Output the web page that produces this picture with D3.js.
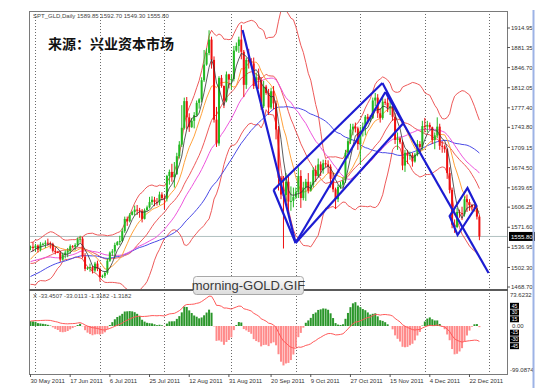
<!DOCTYPE html>
<html>
<head>
<meta charset="utf-8">
<script src="https://cdn.jsdelivr.net/npm/d3@7"></script>
<style>
body{margin:0;background:#fff}
svg{display:block}
text{font-family:"Liberation Sans",Arial,sans-serif}
</style>
</head>
<body>
<script>
// closes before the visible window (only used to warm up the averages / MACD)
var priorClose = [1422,1394,1397,1403,1418,1426,1433,1438,1437,1428,1417,1418,1424,1439,1429,1437,1452,1455,1459,1474,
	1464,1454,1457,1474,1486,1493,1495,1503,1505,1505,1507,1504,1530,1535,1556,1544,1533,1515,1474,1491,
	1514,1516,1501,1502,1491,1486,1490,1497,1494,1511,1527,1526,1526,1519,1536];

// daily bars, 30 May 2011 .. 28 Dec 2011
var open = [1536,1538,1536,1540,1533,1542,1543,1545,1544,1543,1531,1529,1528,1516,1524,1528,1531,1539,1538,1541,
	1551,1552,1521,1500,1502,1503,1497,1509,1500,1486,1488,1493,1514,1528,1530,1541,1546,1548,1565,1586,
	1582,1593,1598,1602,1601,1600,1586,1601,1606,1615,1619,1615,1614,1628,1622,1621,1660,1667,1658,1663,
	1694,1714,1743,1789,1761,1744,1755,1765,1786,1792,1825,1852,1872,1895,1860,1757,1716,1829,1815,1790,
	1835,1826,1827,1876,1884,1895,1874,1817,1860,1857,1854,1815,1830,1825,1780,1814,1803,1778,1806,1785,
	1740,1657,1628,1627,1650,1616,1617,1624,1632,1660,1622,1640,1650,1635,1645,1670,1660,1680,1670,1682,
	1680,1676,1655,1637,1620,1641,1645,1652,1700,1720,1740,1745,1742,1715,1738,1745,1762,1758,1760,1790,
	1795,1768,1760,1788,1786,1778,1780,1762,1722,1725,1718,1678,1700,1695,1696,1685,1697,1715,1710,1746,
	1745,1748,1744,1722,1730,1745,1712,1711,1706,1665,1636,1576,1572,1598,1596,1594,1620,1615,1610,1606,
	1604,1589.85];
var high = [1540,1546,1543,1542,1546,1545,1549,1552,1547,1545,1537,1531,1531,1528,1532,1536,1542,1541,1544,1554,
	1557,1555,1527,1504,1509,1505,1512,1514,1502,1490,1496,1518,1530,1534,1545,1548,1557,1570,1590,1590,
	1596,1600,1609,1610,1605,1603,1604,1609,1624,1625,1624,1622,1633,1632,1627,1662,1671,1681,1684,1700,
	1720,1782,1795,1796,1768,1760,1770,1790,1794,1830,1877,1880,1911,1900,1866,1779,1832,1834,1816,1840,
	1836,1835,1884,1890,1900,1920,1877,1864,1879,1863,1864,1838,1845,1830,1824,1817,1810,1812,1815,1790,
	1746,1660,1660,1665,1662,1642,1640,1640,1675,1670,1650,1655,1665,1650,1675,1678,1690,1685,1688,1688,
	1687,1680,1665,1640,1645,1650,1658,1705,1725,1750,1750,1752,1745,1745,1752,1765,1767,1765,1795,1803,
	1801,1777,1795,1793,1795,1790,1786,1768,1735,1727,1722,1705,1705,1702,1700,1700,1722,1720,1755,1760,
	1755,1752,1745,1735,1761,1750,1720,1714,1708,1675,1640,1585,1605,1602,1607,1625,1628,1620,1612,1610,
	1608,1592.70];
var low = [1532,1530,1530,1528,1530,1540,1536,1540,1535,1528,1525,1527,1512,1514,1518,1520,1526,1536,1532,1538,
	1545,1518,1496,1498,1495,1492,1494,1496,1478,1484,1484,1490,1512,1522,1519,1540,1541,1546,1562,1574,
	1580,1592,1592,1593,1588,1580,1585,1600,1604,1610,1608,1609,1610,1618,1603,1616,1645,1650,1640,1662,
	1690,1710,1740,1740,1736,1743,1742,1763,1776,1787,1822,1850,1868,1845,1752,1710,1712,1812,1777,1787,
	1811,1809,1823,1874,1872,1861,1796,1810,1845,1850,1810,1811,1810,1774,1777,1800,1765,1775,1775,1723,
	1635,1620,1535,1612,1598,1600,1606,1620,1622,1605,1618,1617,1630,1633,1640,1650,1657,1660,1664,1675,
	1665,1640,1632,1603,1615,1638,1640,1648,1690,1715,1730,1735,1705,1680,1728,1730,1750,1753,1758,1780,
	1760,1752,1757,1782,1770,1765,1755,1715,1705,1715,1670,1667,1681,1688,1676,1683,1694,1700,1705,1735,
	1735,1740,1715,1706,1725,1705,1700,1700,1655,1630,1570,1562,1570,1588,1584,1590,1598,1600,1600,1600,
	1585,1549.30];
var close = [1538,1536,1540,1533,1542,1543,1545,1544,1543,1531,1529,1528,1516,1524,1528,1531,1539,1538,1541,1551,
	1552,1521,1500,1502,1503,1497,1509,1500,1486,1488,1493,1514,1528,1530,1541,1546,1548,1565,1586,1582,
	1593,1598,1602,1601,1600,1586,1601,1606,1615,1619,1615,1614,1628,1622,1621,1660,1667,1658,1663,1694,
	1714,1743,1789,1761,1744,1755,1765,1786,1792,1825,1852,1872,1895,1860,1757,1716,1829,1815,1790,1835,
	1826,1827,1876,1884,1895,1874,1817,1860,1857,1854,1815,1830,1825,1780,1814,1803,1778,1806,1785,1740,
	1657,1628,1627,1650,1616,1617,1624,1632,1660,1622,1640,1650,1635,1645,1670,1660,1680,1670,1682,1680,
	1676,1655,1637,1620,1641,1645,1652,1700,1720,1740,1745,1742,1715,1738,1745,1762,1758,1760,1790,1795,
	1768,1760,1788,1786,1778,1780,1762,1722,1725,1718,1678,1700,1695,1696,1685,1697,1715,1710,1746,1745,
	1748,1744,1722,1730,1745,1712,1711,1706,1665,1636,1576,1572,1598,1596,1594,1620,1615,1610,1606,1604,
	1590,1555.80];

var dateTicks = [0,16,32,48,64,80,97,113,129,145,161,177];
var dateLabels = ["30 May 2011","17 Jun 2011","6 Jul 2011","25 Jul 2011","12 Aug 2011","31 Aug 2011",
	"20 Sep 2011","9 Oct 2011","27 Oct 2011","15 Nov 2011","4 Dec 2011","22 Dec 2011"];
var monthStarts = [2,28,54,81,107,133,159,185];
var priceTicks = [1914.95,1881.35,1846.70,1812.05,1777.40,1743.80,1709.15,1674.50,1639.65,1606.25,1571.60,1536.95,1502.30,1468.70];
var macdLevels = [45,30,15,-15,-30,-45];
var lastPrice = 1555.80;

// hand drawn channel lines, [bar, price] end points
var trendSegs = [
	[[85.5,1911.5],[106.9,1544.5]],
	[[98.0,1635.8],[106.9,1544.5]],
	[[98.0,1635.8],[141.9,1820.2]],
	[[106.9,1544.5],[150.4,1751.3]],
	[[141.9,1820.2],[150.4,1751.3]],
	[[106.9,1544.5],[143.1,1804.7]],
	[[143.1,1804.7],[184.7,1492.8]]
];
var box = [[169.0,1591.0],[176.2,1639.3],[179.8,1608.3],[172.2,1558.3]];

var W = 560, H = 388;
var L = 29, R = 507, T = 11, MID = 290, B = 374;

var svg = d3.select("body").append("svg").attr("width", W).attr("height", H);

var x = d3.scaleLinear().domain([0, 181]).range([30.5, 479.4]);
var y = d3.scaleLinear().domain([1468.70, 1914.95]).range([287, 28]);
var ym = d3.scaleLinear().domain([-99.0874, 73.6232]).range([370.4, 293]);

var defs = svg.append("defs");
defs.append("clipPath").attr("id", "cm").append("rect").attr("x", L).attr("y", T).attr("width", R - L).attr("height", MID - T);
defs.append("clipPath").attr("id", "cd").append("rect").attr("x", L).attr("y", MID).attr("width", R - L).attr("height", B - MID);
var gr = defs.append("linearGradient").attr("id", "bg").attr("x1", 0).attr("y1", 0).attr("x2", 0).attr("y2", 1);
gr.append("stop").attr("offset", "0%").attr("stop-color", "#fbfbfb");
gr.append("stop").attr("offset", "100%").attr("stop-color", "#dcdcdc");

// indicators
var all = priorClose.concat(close), off = priorClose.length;
var idx = d3.range(close.length);
function sma(n, i) {
	var s = 0;
	for (var k = 0; k < n; k++) s += all[off + i - k];
	return s / n;
}
function sdev(n, i) {
	var m = sma(n, i), s = 0;
	for (var k = 0; k < n; k++) { var d = all[off + i - k] - m; s += d * d; }
	return Math.sqrt(s / n);
}
function ema(arr, n) {
	var a = 2 / (n + 1), out = [arr[0]];
	for (var k = 1; k < arr.length; k++) out.push(a * arr[k] + (1 - a) * out[k - 1]);
	return out;
}
var e12 = ema(all, 12), e26 = ema(all, 26);
var dif = all.map(function(v, k){ return e12[k] - e26[k]; });
// signal: simple 9 average of the macd line
var dea = dif.map(function(v, k){
	var s = 0, c = 0;
	for (var j = Math.max(0, k - 8); j <= k; j++) { s += dif[j]; c++; }
	return s / c;
});
var hist = function(i){ return 3 * (dif[off + i] - dea[off + i]); };

// grid
svg.append("g").selectAll("line").data(monthStarts).enter().append("line")
	.attr("x1", function(d){ return Math.round(x(d)) + 0.5; }).attr("x2", function(d){ return Math.round(x(d)) + 0.5; })
	.attr("y1", T).attr("y2", B)
	.attr("stroke", "#6a6a6a").attr("stroke-width", 1).attr("stroke-dasharray", "1,2");

// bid line
svg.append("line").attr("x1", L).attr("x2", R).attr("y1", y(lastPrice)).attr("y2", y(lastPrice))
	.attr("stroke", "#b0c0c0").attr("stroke-width", 1);

var gm = svg.append("g").attr("clip-path", "url(#cm)");

function lineOf(f) {
	return d3.line().x(function(i){ return x(i); }).y(function(i){ return y(f(i)); })(idx);
}
var lines = [
	{f: function(i){ return sma(20, i) + 2 * sdev(20, i); }, c: "#ee5a5a"},
	{f: function(i){ return sma(20, i) - 2 * sdev(20, i); }, c: "#ee5a5a"},
	{f: function(i){ return sma(20, i); }, c: "#ee5a5a"},
	{f: function(i){ return sma(50, i); }, c: "#4a4ae6"},
	{f: function(i){ return sma(30, i); }, c: "#ee55dd"},
	{f: function(i){ return sma(10, i); }, c: "#ffa23c"}
];
lines.forEach(function(l){
	gm.append("path").attr("d", lineOf(l.f)).attr("fill", "none").attr("stroke", l.c).attr("stroke-width", 1);
});

// candles
var up = "#22b822", dn = "#ee1111";
var cg = gm.selectAll("g.c").data(idx).enter().append("g");
cg.append("line")
	.attr("x1", function(i){ return x(i); }).attr("x2", function(i){ return x(i); })
	.attr("y1", function(i){ return y(high[i]); }).attr("y2", function(i){ return y(low[i]); })
	.attr("stroke", function(i){ return close[i] >= open[i] ? up : dn; }).attr("stroke-width", 1);
cg.append("rect")
	.attr("x", function(i){ return x(i) - 1; }).attr("width", 2)
	.attr("y", function(i){ return y(Math.max(open[i], close[i])); })
	.attr("height", function(i){ return Math.max(1, Math.abs(y(open[i]) - y(close[i]))); })
	.attr("fill", function(i){ return close[i] >= open[i] ? up : dn; });

gm.append("path").attr("d", lineOf(function(i){ return sma(5, i); }))
	.attr("fill", "none").attr("stroke", "#333").attr("stroke-width", 0.8);

// channel lines
var pt = function(p){ return [x(p[0]), y(p[1])]; };
gm.selectAll("line.t").data(trendSegs).enter().append("line")
	.attr("x1", function(s){ return pt(s[0])[0]; }).attr("y1", function(s){ return pt(s[0])[1]; })
	.attr("x2", function(s){ return pt(s[1])[0]; }).attr("y2", function(s){ return pt(s[1])[1]; })
	.attr("stroke", "#1c1cd2").attr("stroke-width", 2.2);
gm.append("path").attr("d", d3.line()(box.map(pt)) + "Z")
	.attr("fill", "none").attr("stroke", "#1c1cd2").attr("stroke-width", 2.2);

// MACD panel
var gd = svg.append("g").attr("clip-path", "url(#cd)");
gd.selectAll("rect").data(idx).enter().append("rect")
	.attr("x", function(i){ return x(i) - 1; }).attr("width", 2)
	.attr("y", function(i){ return ym(Math.max(hist(i), 0)); })
	.attr("height", function(i){ return Math.abs(ym(hist(i)) - ym(0)); })
	.attr("fill", function(i){ return hist(i) >= 0 ? "#2a962a" : "#ff8a8a"; });
gd.append("path")
	.attr("d", d3.line().x(function(i){ return x(i); }).y(function(i){ return ym(dif[off + i]); })(idx))
	.attr("fill", "none").attr("stroke", "#ff5a5a").attr("stroke-width", 1);

// frames
svg.append("rect").attr("x", L + 0.5).attr("y", T + 0.5).attr("width", R - L).attr("height", B - T)
	.attr("fill", "none").attr("stroke", "#7a7a7a");
svg.append("line").attr("x1", L).attr("x2", R + 1).attr("y1", MID).attr("y2", MID)
	.attr("stroke", "#5a5a5a").attr("stroke-width", 2);

// price axis
var ax = svg.append("g").attr("font-size", 6).attr("fill", "#333");
priceTicks.forEach(function(v){
	ax.append("line").attr("x1", R).attr("x2", R + 3).attr("y1", y(v)).attr("y2", y(v)).attr("stroke", "#555");
	ax.append("text").attr("x", R + 4).attr("y", y(v)).attr("dy", "0.35em").text(v.toFixed(2));
});
ax.append("rect").attr("x", R + 2).attr("y", y(lastPrice) - 4.5).attr("width", 26).attr("height", 9).attr("fill", "#000");
ax.append("text").attr("x", R + 4).attr("y", y(lastPrice)).attr("dy", "0.35em").attr("fill", "#fff").text(lastPrice.toFixed(2));

// MACD axis
ax.append("text").attr("x", R + 3).attr("y", ym(73.6232) + 2).attr("dy", "0.35em").text("73.6232");
ax.append("text").attr("x", R + 3).attr("y", ym(-99.0874) - 1).attr("dy", "0.35em").text("-99.0874");
ax.append("text").attr("x", R + 5).attr("y", ym(0)).attr("dy", "0.35em").text("0.00");
macdLevels.forEach(function(v){
	ax.append("rect").attr("x", R + 3).attr("y", ym(v) - 3).attr("width", 9).attr("height", 6).attr("fill", "#000");
	ax.append("text").attr("x", R + 7.5).attr("y", ym(v)).attr("dy", "0.35em").attr("text-anchor", "middle")
		.attr("font-size", 5).attr("fill", "#fff").text(v);
});

// time axis
dateTicks.forEach(function(d, k){
	ax.append("line").attr("x1", x(d)).attr("x2", x(d)).attr("y1", B).attr("y2", B + 3).attr("stroke", "#555");
	ax.append("text").attr("x", x(d)).attr("y", B + 9).text(dateLabels[k]);
});

// window edge
svg.append("line").attr("x1", 533.5).attr("x2", 533.5).attr("y1", 10).attr("y2", H)
	.attr("stroke", "#9db3e6").attr("stroke-width", 2);

// captions
svg.append("text").attr("x", 33).attr("y", 18).attr("font-size", 6).attr("fill", "#444")
	.text("SPT_GLD,Daily  1589.85 1592.70 1549.30 1555.80");
svg.append("text").attr("x", 33).attr("y", 298).attr("font-size", 6).attr("fill", "#444")
	.text("X  -33.4507 -33.0113 -1.3182 -1.3182");
svg.append("text").attr("x", 48).attr("y", 49).attr("font-size", 14).attr("font-weight", "bold")
	.style("font-family", "'Noto Sans CJK SC'").attr("fill", "#111")
	.text("来源：兴业资本市场");

var lg = svg.append("g");
lg.append("rect").attr("x", 193.5).attr("y", 276.5).attr("width", 110).attr("height", 18).attr("rx", 3)
	.attr("fill", "url(#bg)").attr("stroke", "#a8a8a8");
lg.append("text").attr("x", 248.5).attr("y", 290).attr("text-anchor", "middle").attr("font-size", 13)
	.attr("fill", "#3a3a3a").text("morning-GOLD.GIF");
</script>
</body>
</html>
